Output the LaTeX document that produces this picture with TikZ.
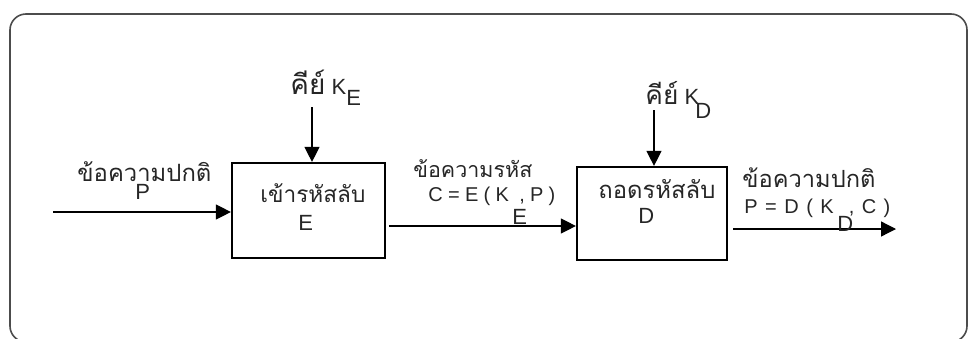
\documentclass[tikz,border=0pt]{standalone}
\usepackage{fontspec}
\setmainfont{Liberation Sans}
\newfontfamily\thaifont[Script=Thai]{Loma}
\usetikzlibrary{arrows.meta,calc}
\tikzset{
  frame/.style={draw=black!70, line width=0.8pt, rounded corners=8pt},
  blockbox/.style={draw, line width=1.1pt, inner sep=0pt},
  arr/.style={line width=0.65pt, -{Triangle[length=7.5pt, width=7.5pt]}},
  txt/.style={anchor=base west, inner sep=0pt, text=black!85, font=\fontsize{11}{12}\selectfont},
  eqtxt/.style={txt, font=\fontsize{10}{12}\selectfont},
}
\newcommand{\thw}[2]{\resizebox{#1}{!}{\thaifont #2}}
\begin{document}
\begin{tikzpicture}[x=0.5pt,y=-0.5pt]
\useasboundingbox (0,0) rectangle (970,338);
\draw[frame] (10,14) rectangle (967,342);
% blocks
\node[blockbox, minimum width=76.5pt, minimum height=47.5pt] (boxE) at (308.5,210.5) {};
\node[blockbox, minimum width=75pt, minimum height=46.5pt] (boxD) at (652,213.5) {};
\node[txt] (tE1) at (260,202) {\thw{52.5pt}{เข้ารหัสลับ}};
\node[txt] (tE2) at (298,230) {E};
\node[txt] (tD1) at (598,198) {\thw{58.5pt}{ถอดรหัสลับ}};
\node[txt] (tD2) at (638,223) {D};
% key labels
\node[txt] (keyE) at (290,94) {\thw{17.5pt}{คีย์}\ K};
\node[txt] (keyEs) at (346,105) {E};
\node[txt] (keyD) at (645,104) {\thw{16.5pt}{คีย์}\ K};
\node[txt] (keyDs) at (695,118) {D};
% key arrows
\coordinate (kE) at (312,107);
\coordinate (kD) at (654,110);
\draw[arr] (kE) -- (kE |- boxE.north);
\draw[arr] (kD) -- (kD |- boxD.north);
% input
\coordinate (in) at (53,212);
\draw[arr] (in) -- (in -| boxE.west);
\node[txt] (lP1) at (77,181) {\thw{67pt}{ข้อความปกติ}};
\node[txt] (lP2) at (135,199) {P};
% middle
\coordinate (m1) at (389,226);
\draw[arr] (m1) -- (m1 -| boxD.west);
\node[txt] (lC1) at (413,177) {\thw{59.5pt}{ข้อความรหัส}};
\node[eqtxt] (lC2) at (428,201) {\makebox[63.5pt][s]{C = E ( K \ , P )}};
\node[txt] (lC3) at (512,224) {E};
% output
\coordinate (o1) at (733,229);
\coordinate (o2) at (896,229);
\draw[arr] (o1) -- (o2);
\node[txt] (lO1) at (742,187) {\thw{66.5pt}{ข้อความปกติ}};
\node[eqtxt] (lO2) at (744,213) {\makebox[73pt][s]{P = D ( K \ , C )}};
\node[txt] (lO3) at (837,231) {D};
\end{tikzpicture}
\end{document}
